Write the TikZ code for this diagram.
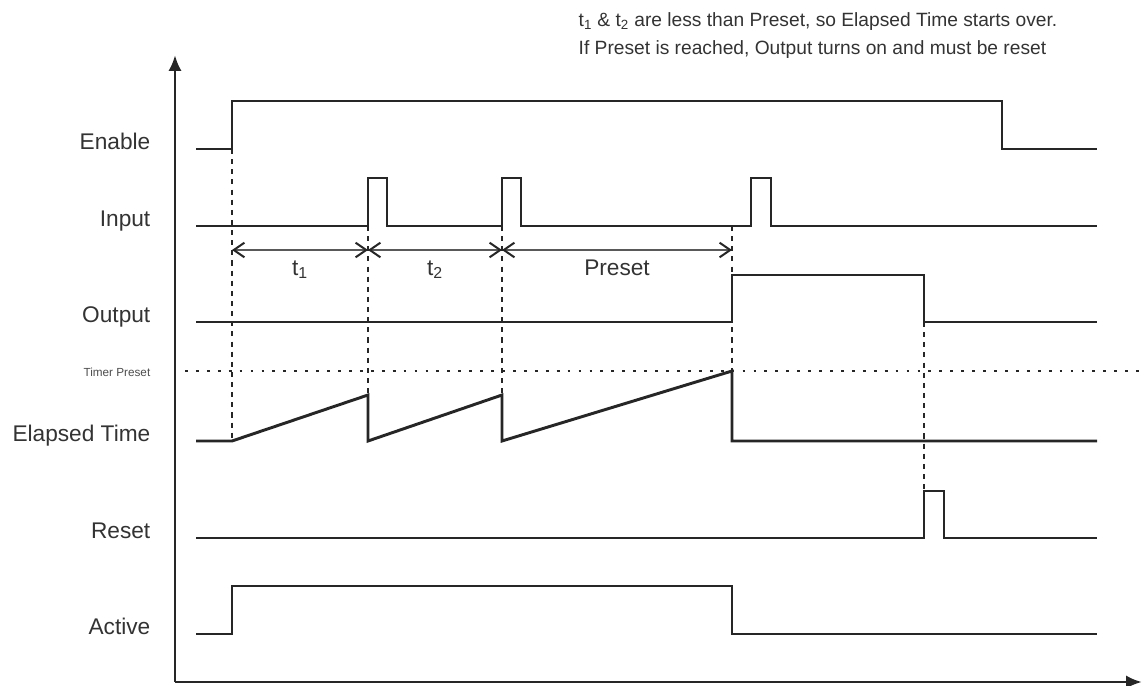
\documentclass[tikz,border=0pt]{standalone}
\usepackage{fontspec}
\setmainfont{Liberation Sans}
\usetikzlibrary{arrows.meta,calc}

\begin{document}
\begin{tikzpicture}[x=0.75pt, y=-0.75pt,
    signal/.style={draw=black!85, line width=2.2pt},
    guide/.style={draw=black!85, line width=2.1pt, dash pattern=on 3.8pt off 3.8pt},
    presetline/.style={draw=black!85, line width=2.1pt, dash pattern=on 2.1pt off 6.1pt},
    dim/.style={draw=black!65, line width=1.1pt, {Straight Barb[length=8pt,width=11pt,line width=1.5pt,black!85]}-{Straight Barb[length=8pt,width=11pt,line width=1.5pt,black!85]}},
    lbl/.style={anchor=base east, text=black!80, font=\fontsize{17}{20}\selectfont},
    dimlbl/.style={anchor=base, text=black!80, font=\fontsize{17}{20}\selectfont}]
            \useasboundingbox (0,0) rectangle (1144,685);

            \node[anchor=base west, text=black!80, font=\fontsize{14.4}{17}\selectfont] (note1) at (574,27)
                {t\textsubscript{1} \& t\textsubscript{2} are less than Preset, so Elapsed Time starts over.};
            \node[anchor=base west, text=black!80, font=\fontsize{14.4}{17}\selectfont] (note2) at (574,55)
                {If Preset is reached, Output turns on and must be reset};

            \coordinate (O) at (175,682);
            \coordinate (Ytop) at (175,55);
            \coordinate (Xend) at (1142,682);
            \draw[line width=2.2pt, draw=black!85, -{Latex[length=12pt,width=10pt]}] (O) -- (Ytop);
            \draw[line width=2.2pt, draw=black!85, -{Latex[length=12pt,width=10pt]}] (O) -- (Xend);

            \node[lbl] (enable) at (155,149) {Enable};
            \node[lbl] (input) at (155,226) {Input};
            \node[lbl] (output) at (155,322) {Output};
            \node[lbl] (elapsed) at (155,441) {Elapsed Time};
            \node[lbl] (reset) at (155,538) {Reset};
            \node[lbl] (active) at (155,634) {Active};
            \node[anchor=base east, text=black!70, font=\fontsize{8.8}{10}\selectfont] (timerpreset) at (155,376) {Timer Preset};

            \coordinate (g1) at (232,149);
            \coordinate (g1b) at (232,441);
            \coordinate (g2) at (368,226);
            \coordinate (g2b) at (368,395);
            \coordinate (g3) at (502,226);
            \coordinate (g3b) at (502,395);
            \coordinate (g4) at (732,226);
            \coordinate (g4b) at (732,371);
            \coordinate (g5) at (924,322);
            \coordinate (g5b) at (924,491);

            \draw[guide] (g1) -- (g1b);
            \draw[guide] (g2) -- (g2b);
            \draw[guide] (g3) -- (g3b);
            \draw[guide] (g4) -- (g4b);
            \draw[guide] (g5) -- (g5b);

            \draw[presetline] (185,371) -- (1140,371);

            \draw[signal] (196,149) -- (232,149) -- (232,101) -- (1002,101) -- (1002,149) -- (1097,149);
            \draw[signal] (196,226) -- (368,226) -- (368,178) -- (387,178) -- (387,226)
                -- (502,226) -- (502,178) -- (521,178) -- (521,226)
                -- (751,226) -- (751,178) -- (771,178) -- (771,226) -- (1097,226);
            \draw[signal] (196,322) -- (732,322) -- (732,275) -- (924,275) -- (924,322) -- (1097,322);
            \draw[signal] (196,441) -- (232,441) -- (368,395) -- (368,441) -- (502,395) -- (502,441)
                -- (732,371) -- (732,441) -- (1097,441);
            \draw[signal] (196,538) -- (924,538) -- (924,491) -- (944,491) -- (944,538) -- (1097,538);
            \draw[signal] (196,634) -- (232,634) -- (232,586) -- (732,586) -- (732,634) -- (1097,634);

            \coordinate (d1) at (232,250);
            \coordinate (d2) at (368,250);
            \coordinate (d3) at (502,250);
            \coordinate (d4) at (732,250);
            \draw[dim] (d1) -- (d2);
            \draw[dim] (d2) -- (d3);
            \draw[dim] (d3) -- (d4);
            \node[dimlbl] (t1) at ($(d1)!0.5!(d2)+(0,25)$) {t\textsubscript{1}};
            \node[dimlbl] (t2) at ($(d2)!0.5!(d3)+(0,25)$) {t\textsubscript{2}};
            \node[dimlbl] (presetlbl) at ($(d3)!0.5!(d4)+(0,25)$) {Preset};
          \end{tikzpicture}
\end{document}
